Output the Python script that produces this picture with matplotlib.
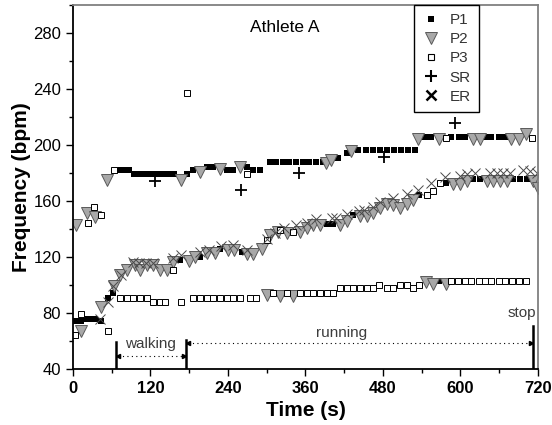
import matplotlib
matplotlib.use("Agg")
import matplotlib.pyplot as plt
from matplotlib.lines import Line2D
from matplotlib.ticker import MultipleLocator

plt.rcParams["font.family"] = ["Liberation Sans", "DejaVu Sans"]

# P1 (black squares)
p1_t = [3, 12, 22, 28, 34, 44, 54, 62,
        72, 79, 87, 95, 103, 111, 118, 126, 134, 141, 149, 157, 176, 186,
        207, 217, 238, 248, 269, 279, 290, 305, 315, 325, 335, 346, 356, 366, 377, 387,
        411, 424, 442, 453, 464, 475, 486, 497, 508, 519, 530,
        545, 555, 586, 597, 607, 638, 648, 659, 669,
        166, 197, 228, 261, 393, 403, 433, 536, 567, 578, 620, 630, 682, 692, 703]
p1_v = [74, 74, 76, 76, 76, 74, 91, 94,
        182, 182, 182, 179, 179, 179, 179, 179, 179, 179, 179, 179, 179, 182,
        184.5, 184.5, 182, 182, 184.5, 182, 182, 187.6, 187.6, 187.6, 187.6, 187.6, 187.6, 187.6, 187.6, 187.6,
        190.5, 194, 196.4, 196.4, 196.4, 196.4, 196.4, 196.4, 196.4, 196.4, 196.4,
        205.6, 205.6, 205.6, 205.6, 205.6, 205.6, 205.6, 205.6, 205.6,
        118, 120, 126, 123.5, 143.6, 143.6, 150, 164, 103, 173, 175.7, 175.7, 175.7, 175.7, 175.7]

# P2 (grey triangles)
p2_t = [4, 13, 21, 34, 44, 63, 73, 83, 96, 104, 114, 124, 135, 145, 155, 179, 189, 207, 220,
        240, 250, 269, 279, 292, 305, 318, 331, 351, 362, 372, 382, 413, 424, 444, 455, 465,
        475, 486, 496, 506, 517, 527, 589, 599, 610, 641, 651, 661, 672, 713, 720,
        300, 320, 341, 547, 558, 578,
        53, 167, 197, 228, 259, 392, 400, 431, 535, 566, 620, 630, 679, 690, 702]
p2_v = [143, 67, 151.6, 148.8, 84.5, 99, 107, 110.7, 114, 110.7, 114, 114, 110.7, 110.7, 116.6, 117, 120, 122.6, 122.6,
        125, 125, 122, 122, 126, 135.7, 138, 137, 138, 140.5, 143, 143, 143, 146, 149, 149, 151.6,
        154.8, 158, 157, 155, 158, 160.7, 172, 172, 174.5, 174.5, 174.5, 174.5, 174.5, 174.5, 169,
        93, 92, 92, 102.4, 101, 101,
        175, 175, 181, 183, 184, 187, 189, 196, 204, 204, 204, 204, 204, 204, 207.6]

# P3 (open squares)
p3_t = [3, 12, 24, 33, 43, 54, 63, 176, 269, 577, 711,
        73, 83, 93, 104, 114, 124, 134, 142, 168, 186, 197, 207, 217, 228, 238, 248, 259, 274, 284,
        310, 331, 351, 362, 372, 382, 393, 403, 413, 424, 434, 444, 455, 465, 474, 486, 496, 506, 517,
        527, 536, 586, 596, 607, 617, 628, 638, 648, 659, 669, 680, 690, 701,
        155, 300, 320, 341, 548, 557, 568]
p3_v = [64, 79, 144, 155.5, 150, 67, 182, 237.4, 179, 205, 205,
        91, 91, 91, 91, 91, 88, 88, 88, 88, 91, 91, 91, 91, 91, 91, 91, 91, 91, 91,
        94, 94, 94, 94, 94, 94, 94, 94, 97.6, 97.6, 97.6, 97.6, 97.6, 97.6, 100, 97.6, 97.6, 100, 100,
        97.6, 100, 102.9, 102.9, 102.9, 102.9, 102.9, 102.9, 102.9, 102.9, 102.9, 102.9, 102.9, 102.9,
        111, 132, 139, 138, 164, 167, 173]

# SR (plus)
sr_t = [127, 260, 350, 481, 591]
sr_v = [174, 168, 180, 191.6, 216]

# ER (cross)
er_t = [42, 55, 62, 75, 93, 103, 113, 124, 155, 168, 197, 210, 229, 248, 269, 300, 313, 326,
        346, 362, 377, 401, 408, 424, 443, 450, 465, 475, 496, 517, 535, 555, 576, 599, 610,
        622, 646, 656, 666, 677, 697, 708, 718]
er_v = [76, 88, 99, 107, 116.6, 116, 116, 116, 119, 121.4, 123.8, 125, 128, 128.6, 125, 133, 137, 140.5,
        143, 144, 147, 147.6, 148, 151, 152.9, 153.6, 156, 159.5, 162, 164.8, 167.9, 172.6, 177.4, 177.9, 179.3,
        180.2, 180.2, 180.2, 180.2, 180.2, 182, 181.6, 180.2]

walk_start, walk_end, stop_t = 66, 175, 712

fig = plt.figure(figsize=(5.52, 4.25), dpi=100)
ax = fig.add_axes([0.1322, 0.1318, 0.8424, 0.8565])

ax.plot(p1_t, p1_v, "s", color="black", ms=5, mew=0, label="P1")
ax.plot(p2_t, p2_v, "v", mfc="#a8a8a8", mec="#5a5a5a", ms=8, mew=0.7, label="P2")
ax.plot(p3_t, p3_v, "s", mfc="white", mec="black", ms=4.8, mew=0.7, label="P3")
ax.plot(sr_t, sr_v, "+", color="black", ms=8, mew=1.3, label="SR")
ax.plot(er_t, er_v, "x", color="#4a4a4a", ms=6.5, mew=0.7, label="ER")

ax.set_xlim(0, 720)
ax.set_ylim(40, 300)
ax.xaxis.set_major_locator(MultipleLocator(120))
ax.xaxis.set_minor_locator(MultipleLocator(60))
ax.yaxis.set_major_locator(MultipleLocator(40))
ax.yaxis.set_minor_locator(MultipleLocator(20))
ax.set_yticks(range(40, 281, 40))
ax.tick_params(axis="both", which="major", direction="out", length=5, width=1, labelsize=12)
ax.tick_params(axis="both", which="minor", direction="out", length=3, width=1)
for lbl in ax.get_xticklabels():
    lbl.set_fontweight("bold")

for s in ["left", "bottom"]:
    ax.spines[s].set_linewidth(1.3)
    ax.spines[s].set_color("black")
for s in ["top", "right"]:
    ax.spines[s].set_linewidth(1.3)
    ax.spines[s].set_color("#808080")

ax.set_xlabel("Time (s)", fontsize=15, fontweight="bold", labelpad=4)
ax.set_ylabel("Frequency (bpm)", fontsize=15, fontweight="bold", labelpad=2)

ax.text(328, 284, "Athlete A", fontsize=12.5, ha="center", va="center")

# phase annotations
ann = "#3c3c3c"
ax.plot([walk_start, walk_start], [40, 59.5], color="black", lw=1.8)
ax.plot([walk_end, walk_end], [40, 60.5], color="black", lw=1.8)
ax.plot([stop_t, stop_t], [40, 71], color="black", lw=1.8)
ax.plot([walk_start + 3, walk_end - 3], [49.5, 49.5], color="black", lw=0.8, ls=(0, (1, 3)))
ax.plot([walk_start + 3], [49.5], "<", color="black", ms=3)
ax.plot([walk_end - 3], [49.5], ">", color="black", ms=3)
ax.plot([walk_end + 3, stop_t - 3], [58.8, 58.8], color="black", lw=0.8, ls=(0, (1, 3)))
ax.plot([walk_end + 3], [58.8], "<", color="black", ms=3)
ax.plot([stop_t - 3], [58.8], ">", color="black", ms=3)
ax.text((walk_start + walk_end) / 2, 58, "walking", fontsize=11, color=ann, ha="center", va="center")
ax.text(416, 66, "running", fontsize=11, color=ann, ha="center", va="center")
ax.text(695, 80, "stop", fontsize=11, color=ann, ha="center", va="center")

handles = [
    Line2D([], [], ls="none", marker="s", color="black", ms=5, mew=0),
    Line2D([], [], ls="none", marker="v", mfc="#a8a8a8", mec="#5a5a5a", ms=8, mew=0.7),
    Line2D([], [], ls="none", marker="s", mfc="white", mec="black", ms=4, mew=0.8),
    Line2D([], [], ls="none", marker="+", color="black", ms=8, mew=1.5),
    Line2D([], [], ls="none", marker="x", color="black", ms=7, mew=1.8),
]
leg = ax.legend(handles, ["P1", "P2", "P3", "SR", "ER"], loc="upper left",
                bbox_to_anchor=(0.733, 1.0), borderaxespad=0, fontsize=11,
                labelspacing=0.33, handlelength=1.2, handletextpad=0.6,
                borderpad=0.55, fancybox=False, framealpha=1, edgecolor="black")
leg.get_frame().set_linewidth(1.0)
for t in leg.get_texts():
    t.set_color("#333333")

fig.savefig("out.png", dpi=100)
